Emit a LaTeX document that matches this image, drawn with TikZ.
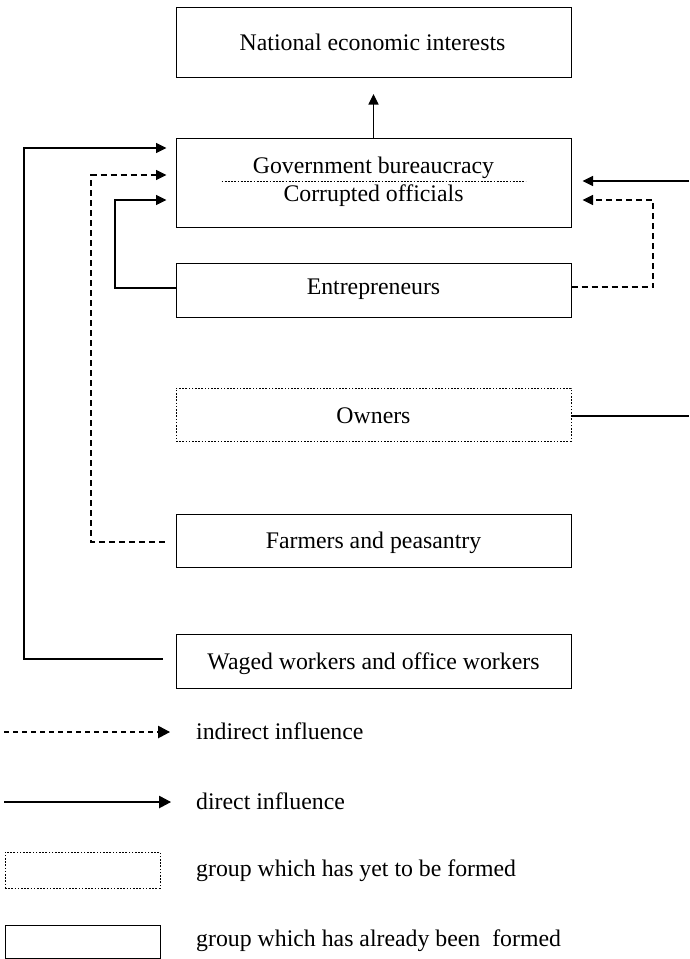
\documentclass[tikz,border=0pt]{standalone}
\usepackage{fontspec}
\setmainfont{Liberation Serif}
\usetikzlibrary{arrows.meta,calc}
\begin{document}
\begin{tikzpicture}[x=1pt,y=-1pt,
  txt/.style={font=\fontsize{23.8}{28}\selectfont,inner sep=0pt,anchor=base},
  lgd/.style={txt,anchor=base west},
  box/.style={draw,line width=1pt,minimum width=395pt,inner sep=0pt},
  future/.style={box,dash pattern=on 1.6pt off 1.6pt},
  link/.style={line width=1.1pt},
  conn/.style={link,-{Triangle[length=10.5pt,width=10pt]}},
  bigconn/.style={link,-{Triangle[length=12pt,width=12.5pt]}},
  ind/.style={conn,dash pattern=on 6pt off 4pt}]
\useasboundingbox (0,0) rectangle (689,959);

% group boxes
\node[box,minimum height=70pt] (nat) at (373.5,42.5) {};
\node[box,minimum height=89pt] (gov) at (373.5,182.5) {};
\node[box,minimum height=54pt] (ent) at (373.5,290) {};
\node[future,minimum height=53pt] (own) at (373.5,414.5) {};
\node[box,minimum height=53pt] (farm) at (373.5,540.5) {};
\node[box,minimum height=54pt] (wag) at (373.5,661) {};

% box captions (placed on their baselines)
\node[txt] (natT) at ($(nat.center)+(-1,8)$) {National economic interests};
\node[txt] (gb) at ($(gov.center)+(0,-9)$) {Government bureaucracy};
\node[txt] (co) at ($(gov.center)+(0,18.5)$) {Corrupted officials};
\draw[line width=1.2pt,dash pattern=on 1.8pt off 1.4pt]
  ($(gov.west)+(46,-1)$) coordinate (dl) -- ($(gov.east)+(-46,-1)$) coordinate (dr);
\node[txt] (entT) at ($(ent.center)+(0,4.5)$) {Entrepreneurs};
\node[txt] (ownT) at ($(own.center)+(0,9)$) {Owners};
\node[txt] (farmT) at ($(farm.center)+(0,7.5)$) {Farmers and peasantry};
\node[txt] (wagT) at ($(wag.center)+(0,8.5)$) {Waged workers and office workers};

% influence of the bureaucracy on national interests
\draw[conn,shorten >=16pt] (gov.north) -- (nat.south);

% left-hand connectors
\draw[conn,shorten >=9pt] ([xshift=-13pt,yshift=2pt]wag.west) -| (24,148)
  -- ($(gov.west)+(0,-34.5)$);
\draw[ind,shorten >=9pt] ([xshift=-11pt,yshift=-1.5pt]farm.west) -| (91,175)
  -- ($(gov.west)+(0,-7.5)$);
\draw[conn,shorten >=9pt] ([yshift=2pt]ent.west) -| (115,200)
  -- ($(gov.west)+(0,17.5)$);

% right-hand connectors
\coordinate (rin) at (689,181);
\draw[conn,shorten >=11pt] (rin) -- ($(gov.east)+(0,-1.5)$);
\draw[ind,shorten >=11pt] ([yshift=3pt]ent.east) -| (653,200)
  -- ($(gov.east)+(0,17.5)$);
\coordinate (rout) at (689,416);
\draw[link] ([yshift=-1.5pt]own.east) -- (rout);

% legend
\coordinate (l1a) at (4,732); \coordinate (l1b) at (170,732);
\draw[bigconn,dash pattern=on 5pt off 4pt] (l1a) -- (l1b);
\node[lgd] (t1) at (196,739.5) {indirect influence};
\coordinate (l2a) at (4,802); \coordinate (l2b) at (171,802);
\draw[bigconn] (l2a) -- (l2b);
\node[lgd] (t2) at (196,809.5) {direct influence};
\node[future,minimum width=155pt,minimum height=36pt] (l3) at (82.5,870) {};
\node[lgd] (t3) at (196,876) {group which has yet to be formed};
\node[box,minimum width=155pt,minimum height=33pt] (l4) at (82.5,941.5) {};
\node[lgd] (t4) at (196,946) {group which has already been\ \ formed};
\end{tikzpicture}
\end{document}
